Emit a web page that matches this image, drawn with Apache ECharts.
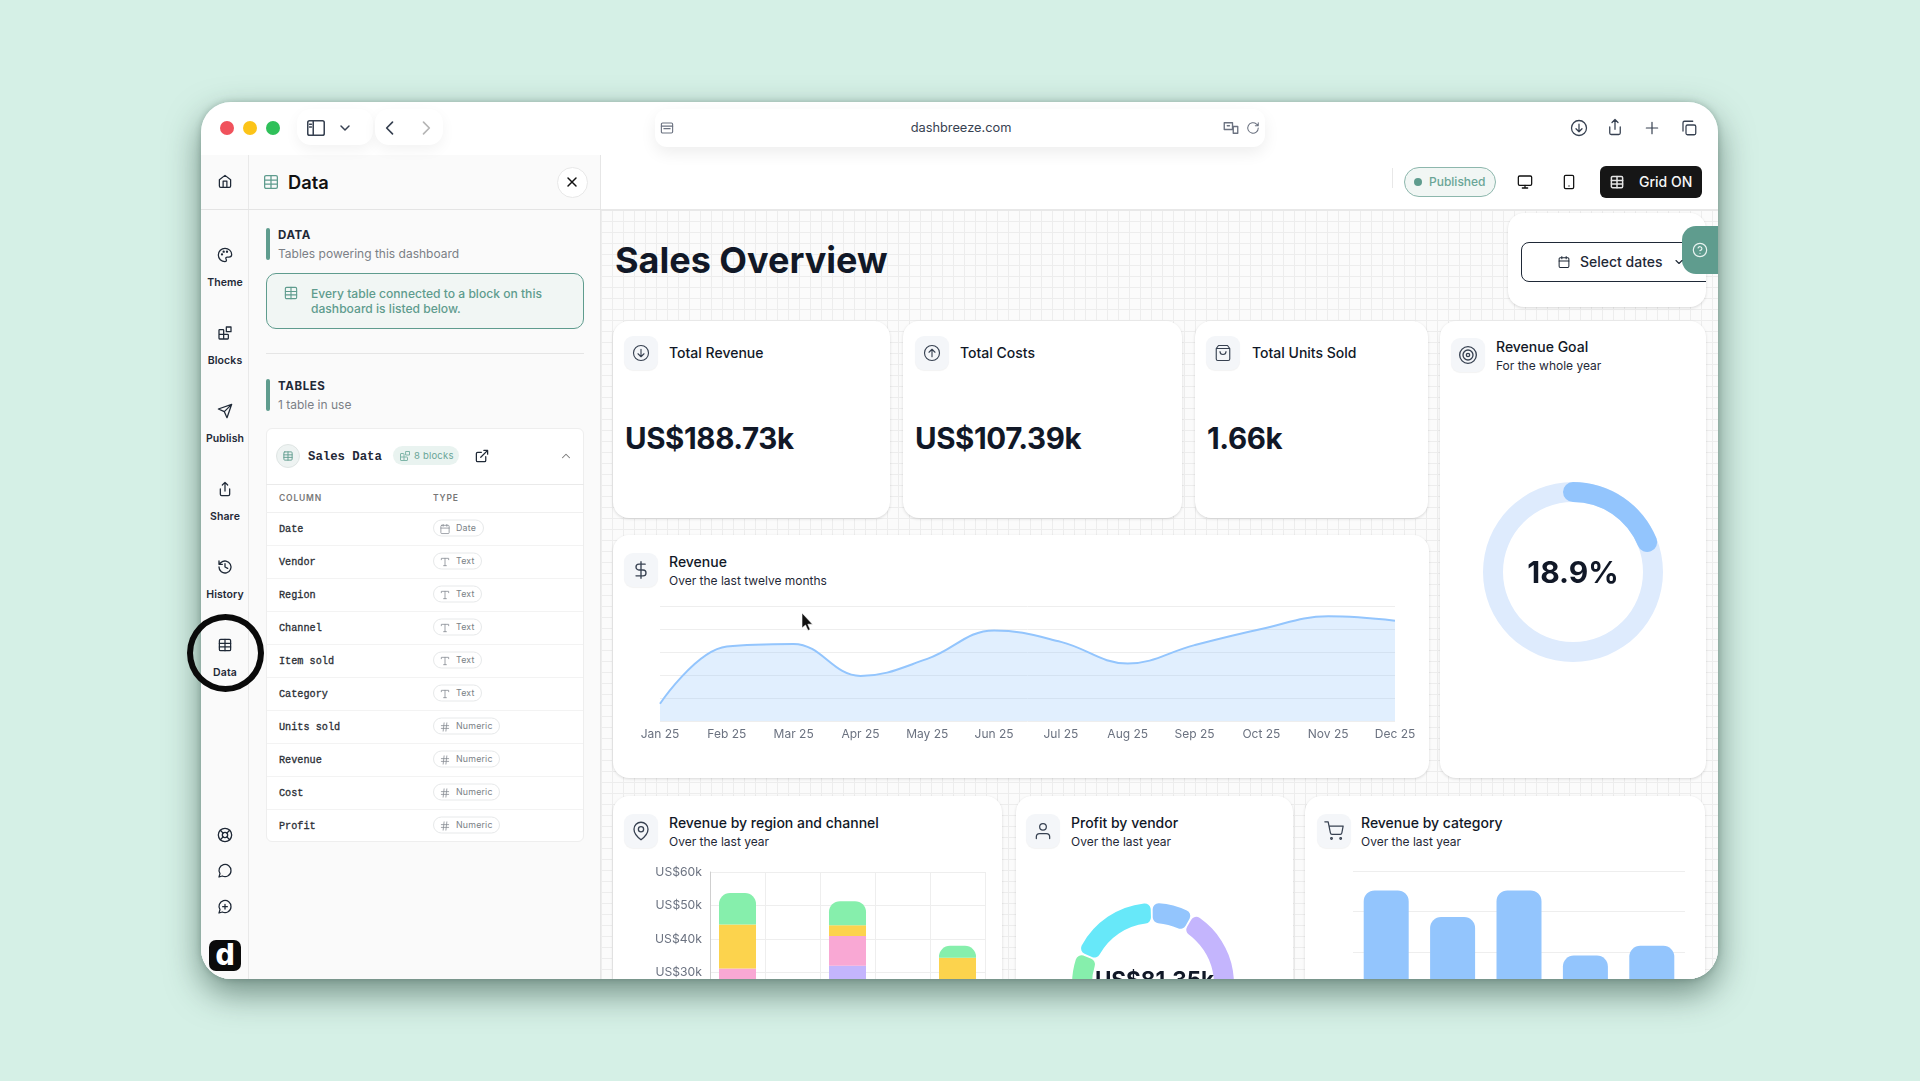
<!DOCTYPE html>
<html><head><meta charset="utf-8">
<script src="https://cdn.jsdelivr.net/npm/echarts@6/dist/echarts.min.js"></script>
<style>
*{box-sizing:border-box}
html,body{margin:0;padding:0;width:1920px;height:1081px;overflow:hidden;background:#d5f0e6;font-family:Inter,"Noto Sans",sans-serif;color:#111827}
#win{position:absolute;left:201px;top:102px;width:1517px;height:877px;border-radius:30px;overflow:hidden;background:#fff;}
#shadow{position:absolute;left:201px;top:102px;width:1517px;height:877px;border-radius:30px;box-shadow:0 14px 34px rgba(30,60,50,.55),0 0 6px rgba(30,60,50,.25)}
#page{position:absolute;left:-201px;top:-102px;width:1920px;height:1081px}
.t{position:absolute;line-height:1;white-space:nowrap;transform:translateY(-50%)}
.c{transform:translate(-50%,-50%)}
.b{position:absolute}
.card{position:absolute;background:#fff;border-radius:16px;box-shadow:0 1px 3px rgba(0,0,0,.14)}
.ib{position:absolute;width:34px;height:34px;border-radius:9px;background:#f4f6f9;box-shadow:0 1px 1px rgba(0,0,0,.05)}
.ttl{font-size:14px;font-weight:500;color:#111827}
.sub{font-size:12px;color:#1f2937}
.big{font-size:29.5px;font-weight:700;color:#111827;letter-spacing:-.4px}
.rail{font-size:10.5px;font-weight:600;color:#1f2937;letter-spacing:.1px}
.mono{font-family:"Liberation Mono",monospace}
.pill{position:absolute;height:17px;border:1px solid #e7e9ea;border-radius:9px;background:#fff;transform:translateY(-50%)}
.chart{position:absolute}
svg.ic{position:absolute;fill:none;stroke-linecap:round;stroke-linejoin:round;transform:translate(-50%,-50%)}
</style></head><body>
<div id="shadow"></div>
<div id="win"><div id="page">
  <div class="b" style="left:201px;top:155px;width:48px;height:824px;background:#fafafa;border-right:1px solid #e9e9e9"></div>
  <div class="b" style="left:249px;top:155px;width:352px;height:824px;background:#fafafa;border-right:1px solid #e6e6e6"></div>
  <div class="b" style="left:601px;top:210px;width:1117px;height:769px;background-color:#fbfbfb;background-image:linear-gradient(#ededed 1px,transparent 1px),linear-gradient(90deg,#ededed 1px,transparent 1px);background-size:11px 11px"></div>
  <div class="b" style="left:201px;top:209px;width:400px;height:1px;background:#e4e4e4"></div>
  <div class="b" style="left:601px;top:209px;width:1117px;height:2px;background:#e8e8e8"></div>
  <div class="b" style="left:655px;top:109px;width:610px;height:38px;border-radius:12px;background:#fff;box-shadow:0 6px 16px rgba(0,0,0,.07)"></div>
  <div class="b" style="left:297px;top:109px;width:76px;height:36px;border-radius:14px;background:#fff;box-shadow:0 5px 14px rgba(0,0,0,.05)"></div>
  <div class="b" style="left:375px;top:109px;width:68px;height:36px;border-radius:14px;background:#fff;box-shadow:0 5px 14px rgba(0,0,0,.05)"></div>
  <div class="b" style="left:220px;top:121px;width:14px;height:14px;border-radius:50%;background:#f0525c"></div>
  <div class="b" style="left:243px;top:121px;width:14px;height:14px;border-radius:50%;background:#fcc419"></div>
  <div class="b" style="left:266px;top:121px;width:14px;height:14px;border-radius:50%;background:#2fc05a"></div>
  <div class="t c" style="left:961px;top:128px;font-size:12.8px;color:#374151">dashbreeze.com</div>

  <div class="t" style="left:288px;top:182px;font-size:18.3px;font-weight:600;color:#111">Data</div>
  <div class="b" style="left:557px;top:167px;width:31px;height:31px;border-radius:50%;background:#fff;border:1px solid #e8e8e8"></div>

  <div class="b" style="left:266px;top:228px;width:4px;height:32px;border-radius:2px;background:#5f9c8e"></div>
  <div class="t" style="left:278px;top:236px;font-size:11.5px;font-weight:700;letter-spacing:.6px;color:#1f2937">DATA</div>
  <div class="t" style="left:278px;top:254px;font-size:12px;color:#7a7f86">Tables powering this dashboard</div>
  <div class="b" style="left:266px;top:273px;width:318px;height:56px;border-radius:10px;border:1px solid #5f9c8e;background:#f1f6f4"></div>
  <div class="t" style="left:311px;top:294px;font-size:12.1px;color:#5f9c8e;font-weight:500">Every table connected to a block on this</div>
  <div class="t" style="left:311px;top:309px;font-size:12.1px;color:#5f9c8e;font-weight:500">dashboard is listed below.</div>
  <div class="b" style="left:266px;top:353px;width:318px;height:1px;background:#e5e5e5"></div>
  <div class="b" style="left:266px;top:379px;width:4px;height:32px;border-radius:2px;background:#5f9c8e"></div>
  <div class="t" style="left:278px;top:387px;font-size:11.5px;font-weight:700;letter-spacing:.6px;color:#1f2937">TABLES</div>
  <div class="t" style="left:278px;top:405px;font-size:12px;color:#7a7f86">1 table in use</div>

  <div class="b" style="left:266px;top:428px;width:318px;height:414px;background:#fff;border:1px solid #eee;border-radius:6px"></div>
  <div class="b" style="left:276px;top:444px;width:24px;height:24px;border-radius:50%;background:#eef3f2;border:1px solid #dfe5e4"></div>
  <div class="t mono" style="left:308px;top:457px;font-size:12.3px;font-weight:700;color:#1f2937">Sales Data</div>
  <div class="b" style="left:393px;top:446px;width:66px;height:19px;border-radius:10px;background:#e9f3f0"></div>
  <div class="t" style="left:414px;top:455.5px;font-size:9.5px;color:#6aa597;letter-spacing:.2px">8 blocks</div>
  <div class="b" style="left:266px;top:484px;width:318px;height:1px;background:#eaeaea"></div>
  <div class="t" style="left:279px;top:498px;font-size:8.5px;font-weight:600;color:#777;letter-spacing:.8px">COLUMN</div>
  <div class="t" style="left:433px;top:498px;font-size:8.5px;font-weight:600;color:#777;letter-spacing:.8px">TYPE</div>
  <div class="b" style="left:266px;top:512px;width:318px;height:1px;background:#f0f0f0"></div>
  <div id="rows"></div>

  <div class="t" style="left:615px;top:260px;font-size:36px;font-weight:700;color:#111827">Sales Overview</div>
  <div class="card" style="left:1508px;top:213px;width:198px;height:94px;overflow:hidden">
    <div class="b" style="left:13px;top:29px;width:200px;height:40px;border:1px solid #1f2937;border-radius:8px;background:#fff"></div>
  </div>
  <div class="t" style="left:1580px;top:262px;font-size:14px;font-weight:500;color:#1f2937">Select dates</div>

  <div class="b" style="left:1392px;top:168px;width:1px;height:20px;background:#e8e8e8"></div>
  <div class="b" style="left:1404px;top:167px;width:92px;height:30px;border-radius:15px;border:1px solid #8db7ad;background:#f1f6f4"></div>
  <div class="b" style="left:1414px;top:178px;width:8px;height:8px;border-radius:50%;background:#5f9c8e"></div>
  <div class="t" style="left:1429px;top:182px;font-size:12px;font-weight:500;color:#6aa597">Published</div>
  <div class="b" style="left:1600px;top:166px;width:102px;height:32px;border-radius:6px;background:#161616"></div>
  <div class="t" style="left:1639px;top:182px;font-size:14px;font-weight:500;color:#f5f5f5">Grid ON</div>

  <div class="card" style="left:613px;top:321px;width:277px;height:197px"></div>
  <div class="card" style="left:903px;top:321px;width:279px;height:197px"></div>
  <div class="card" style="left:1195px;top:321px;width:233px;height:197px"></div>
  <div class="card" style="left:1440px;top:321px;width:266px;height:457px"></div>
  <div class="card" style="left:613px;top:535px;width:816px;height:243px"></div>
  <div class="card" style="left:613px;top:796px;width:389px;height:300px"></div>
  <div class="card" style="left:1016px;top:796px;width:277px;height:300px"></div>
  <div class="card" style="left:1305px;top:796px;width:400px;height:300px"></div>

  <div class="ib" style="left:624px;top:336px"></div>
  <div class="ib" style="left:915px;top:336px"></div>
  <div class="ib" style="left:1206px;top:336px"></div>
  <div class="ib" style="left:1451px;top:338px"></div>
  <div class="ib" style="left:624px;top:553px"></div>
  <div class="ib" style="left:624px;top:814px"></div>
  <div class="ib" style="left:1026px;top:814px"></div>
  <div class="ib" style="left:1317px;top:814px"></div>

  <div class="t ttl" style="left:669px;top:353px">Total Revenue</div>
  <div class="t ttl" style="left:960px;top:353px">Total Costs</div>
  <div class="t ttl" style="left:1252px;top:353px">Total Units Sold</div>
  <div class="t big" style="left:625px;top:439px">US$188.73k</div>
  <div class="t big" style="left:915px;top:439px">US$107.39k</div>
  <div class="t big" style="left:1207px;top:439px">1.66k</div>
  <div class="t ttl" style="left:1496px;top:347px">Revenue Goal</div>
  <div class="t sub" style="left:1496px;top:366px">For the whole year</div>
  <div class="t ttl" style="left:669px;top:562px">Revenue</div>
  <div class="t sub" style="left:669px;top:581px">Over the last twelve months</div>
  <div class="t ttl" style="left:669px;top:823px">Revenue by region and channel</div>
  <div class="t sub" style="left:669px;top:842px">Over the last year</div>
  <div class="t ttl" style="left:1071px;top:823px">Profit by vendor</div>
  <div class="t sub" style="left:1071px;top:842px">Over the last year</div>
  <div class="t ttl" style="left:1361px;top:823px">Revenue by category</div>
  <div class="t sub" style="left:1361px;top:842px">Over the last year</div>

  <div class="chart" id="chartRevenue" style="left:613px;top:590px;width:816px;height:170px"></div>
  <div class="chart" id="chartGoal" style="left:1453px;top:452px;width:240px;height:240px"></div>
  <div class="chart" id="chartRegion" style="left:613px;top:860px;width:389px;height:236px"></div>
  <div class="chart" id="chartVendor" style="left:1016px;top:860px;width:277px;height:236px"></div>
  <div class="chart" id="chartCategory" style="left:1305px;top:860px;width:400px;height:236px"></div>

  <div class="b" style="left:1682px;top:226px;width:40px;height:48px;border-radius:14px 0 0 14px;background:#5f9c8e"></div>
  <div id="railText"></div>
  <div class="b" style="left:209px;top:940px;width:32px;height:31px;border-radius:7px;background:#0b0b0b"></div>
  <div class="t c" style="left:225px;top:954px;font-size:30px;font-weight:800;color:#fff">d</div>
  <div id="icons"></div>
  <svg class="b" style="left:801px;top:613px" width="12" height="18" viewBox="0 0 12 18"><path d="M1 0v15l3.5-3 2.5 5.5 2.2-1-2.4-5.3h4.7z" fill="#111" stroke="#fff" stroke-width=".6"/></svg>
</div></div>
<div class="b" style="left:187px;top:614px;width:77px;height:78px;border-radius:50%;border:6.5px solid #0a0a0a"></div>
<script>
// Revenue line (US$)
var months = ['Jan 25','Feb 25','Mar 25','Apr 25','May 25','Jun 25','Jul 25','Aug 25','Sep 25','Oct 25','Nov 25','Dec 25'];
var revenueByMonth = [3750,16200,16750,9800,13500,19700,17200,12500,16500,20000,22750,21800];
// Revenue goal (%)
var goalPercent = 18.9;
var goalLabel = '18.9%';
// Stacked bars: region and channel
var regions = ['North','Central','South','West','East'];
var stackLavender = [13000,null,32000,null,8000];
var stackPink = [18200,null,8900,null,10000];
var stackYellow = [13100,null,3200,null,16400];
var stackGreen = [9400,null,7200,null,3600];
// Profit by vendor
var vendors = ['Vendor A','Vendor B','Vendor C','Vendor D','Vendor E'];
var vendorProfit = [7000,24900,16500,18000,14900];
var vendorTotal = 'US$81.35k';
// Revenue by category
var categories = ['Category A','Category B','Category C','Category D','Category E'];
var categoryRevenue = [45200,38600,45200,29100,31500];
// Table columns
var columnNames = ['Date','Vendor','Region','Channel','Item sold','Category','Units sold','Revenue','Cost','Profit'];
var columnTypes = ['Date','Text','Text','Text','Text','Text','Numeric','Numeric','Numeric','Numeric'];
var railLabels = ['Theme','Blocks','Publish','Share','History','Data'];

var blue='#93c5fd', green='#86efac', yellow='#fcd34d', pink='#f9a8d4', lav='#c4b5fd', cyan='#67e8f9';
var axisGray='#6b7280', gridC='#eeeeee', FONT='Inter';

// ---------- chrome text + icons ----------
var P={
 home:'<path d="M3 10l9-7 9 7v10a2 2 0 0 1-2 2H5a2 2 0 0 1-2-2z"/><path d="M9 22V12h6v10"/>',
 table:'<rect x="3" y="3" width="18" height="18" rx="2"/><path d="M3 9.5h18M3 15h18M12 3v18"/>',
 palette:'<path d="M12 2a10 10 0 1 0 0 20c1.5 0 2.2-1 2.2-2 0-1.4-1-1.8-1-3 0-1 .8-1.8 2-1.8h2.5c2.5 0 4.3-1.6 4.3-4C22 6 17.500 2 12 2z"/><circle cx="7.500" cy="11" r=".8"/><circle cx="10" cy="7" r=".8"/><circle cx="15" cy="7" r=".8"/>',
 blocks:'<rect x="14" y="3" width="7" height="7"/><path d="M10 21V8a1 1 0 0 0-1-1H4a1 1 0 0 0-1 1v12a1 1 0 0 0 1 1h12a1 1 0 0 0 1-1v-5a1 1 0 0 0-1-1H3"/>',
 send:'<path d="M22 2L11 13M22 2l-7 20-4-9-9-4z"/>',
 share:'<path d="M5 12v8a2 2 0 0 0 2 2h10a2 2 0 0 0 2-2v-8M16 6l-4-4-4 4M12 2v13"/>',
 history:'<path d="M3 12a9 9 0 1 0 3-6.700L3 8M3 3v5h5M12 7v5l4 2"/>',
 buoy:'<circle cx="12" cy="12" r="10"/><circle cx="12" cy="12" r="4"/><path d="M5 5l4.200 4.200M14.800 14.800L19 19M19 5l-4.200 4.200M9.200 14.800L5 19"/>',
 msg:'<path d="M21 11.500a9 9 0 0 1-13 8L3 21l1.500-5A9 9 0 1 1 21 11.500z"/>',
 msgplus:'<path d="M21 11.500a9 9 0 0 1-13 8L3 21l1.500-5A9 9 0 1 1 21 11.500z"/><path d="M12 8v7M8.500 11.500h7"/>',
 x:'<path d="M18 6L6 18M6 6l12 12"/>',
 sidebar:'<rect x="3" y="4" width="18" height="16" rx="2"/><path d="M9 4v16M5 8h2M5 11h2"/>',
 down:'<path d="M6 9l6 6 6-6"/>',left:'<path d="M15 19l-7-7 7-7"/>',right:'<path d="M9 19l7-7-7-7"/>',up:'<path d="M18 15l-6-6-6 6"/>',
 dl:'<circle cx="12" cy="12" r="10"/><path d="M12 7v10M8 13l4 4 4-4"/>',
 ul:'<circle cx="12" cy="12" r="10"/><path d="M12 17V7M8 11l4-4 4 4"/>',
 plus:'<path d="M12 4v16M4 12h16"/>',
 copy:'<rect x="8" y="8" width="13" height="13" rx="2"/><path d="M4 16V5a2 2 0 0 1 2-2h11"/>',
 monitor:'<rect x="2" y="3" width="20" height="14" rx="2"/><path d="M8 21h8M12 17v4"/>',
 phone:'<rect x="5" y="2" width="14" height="20" rx="2"/><path d="M12 18h.01"/>',
 cal:'<rect x="3" y="4" width="18" height="18" rx="2"/><path d="M16 2v4M8 2v4M3 10h18"/>',
 help:'<circle cx="12" cy="12" r="10"/><path d="M9.100 9a3 3 0 0 1 5.800 1c0 2-3 3-3 3M12 17h.01"/>',
 dollar:'<path d="M12 2v20M17 5H9.500a3.500 3.500 0 0 0 0 7h5a3.500 3.500 0 0 1 0 7H6"/>',
 target:'<circle cx="12" cy="12" r="10"/><circle cx="12" cy="12" r="6"/><circle cx="12" cy="12" r="2"/>',
 pin:'<path d="M20 10c0 6-8 12-8 12s-8-6-8-12a8 8 0 0 1 16 0z"/><circle cx="12" cy="10" r="3"/>',
 user:'<circle cx="12" cy="7" r="4"/><path d="M20 21v-2a4 4 0 0 0-4-4H8a4 4 0 0 0-4 4v2"/>',
 cart:'<circle cx="9" cy="21" r="1"/><circle cx="20" cy="21" r="1"/><path d="M1 1h4l2.700 13.400a2 2 0 0 0 2 1.600h9.700a2 2 0 0 0 2-1.600L23 6H6"/>',
 bag:'<path d="M6 2L3 6v14a2 2 0 0 0 2 2h14a2 2 0 0 0 2-2V6l-3-4zM3 6h18M16 10a4 4 0 0 1-8 0"/>',
 ext:'<path d="M18 13v6a2 2 0 0 1-2 2H5a2 2 0 0 1-2-2V8a2 2 0 0 1 2-2h6M15 3h6v6M10 14L21 3"/>',
 T:'<path d="M4 7V4h16v3M9 20h6M12 4v16"/>',
 hash:'<path d="M4 9h16M4 15h16M10 3L8 21M16 3l-2 18"/>',
 reload:'<path d="M21 12a9 9 0 1 1-3-6.700L21 8M21 3v5h-5"/>',
 lang:'<path d="M3 5h11v9H3zM7 9h3M15 10h6v9h-6z"/>',
 page:'<rect x="3" y="4" width="18" height="16" rx="2"/><path d="M3 9h18M7 13h10"/>'
};
var icons=[
 ['sidebar',316,128,22,'#374151',1.7],['down',345,128,16,'#374151',2.2],['left',390,128,20,'#374151',2],['right',426,128,20,'#b5b5b5',2],
 ['page',667,128,15,'#6b7280',1.8],['lang',1231,128,18,'#6b7280',1.8],['reload',1253,128,14,'#6b7280',1.8],
 ['dl',1579,128,18,'#374151',1.7],['share',1615,127,18,'#374151',1.7],['plus',1652,128,17,'#374151',1.7],['copy',1689,128,18,'#374151',1.7],
 ['home',225,181,15,'#1f2937',2],['table',271,182,17,'#5f9c8e',1.8],['x',572,182,16,'#111',2.2],
 ['palette',225,255,16,'#1f2937',1.9],['blocks',225,333,16,'#1f2937',1.9],['send',225,411,16,'#1f2937',1.9],
 ['share',225,489,16,'#1f2937',1.9],['history',225,567,16,'#1f2937',2],['table',225,645,15,'#1f2937',2],
 ['buoy',225,835,16,'#1f2937',2],['msg',225,871,16,'#1f2937',1.9],['msgplus',225,907,16,'#1f2937',1.9],
 ['table',291,293,15,'#5f9c8e',1.8],['table',288,456,11,'#5f9c8e',2],['blocks',405,456,12,'#7fb5a8',2],['ext',482,456,15,'#1f2937',2],['up',566,456,14,'#777',1.8],
 ['monitor',1525,182,16,'#111',1.9],['phone',1569,182,16,'#111',1.9],['table',1617,182,15,'#e5e5e5',2.4],
 ['cal',1564,262,13,'#1f2937',1.9],['down',1679,262,12,'#1f2937',2.2],['help',1700,250,16,'#e6f2ef',1.8],
 ['dl',641,353,18,'#374151',1.5],['ul',932,353,18,'#374151',1.5],['bag',1223,353,18,'#374151',1.5],
 ['target',1468,355,20,'#374151',1.6],['dollar',641,570,20,'#374151',1.6],['pin',641,831,21,'#374151',1.5],['user',1043,831,20,'#374151',1.5],['cart',1334,831,20,'#374151',1.5]
];
var rowTypeIcon={Date:'cal',Text:'T',Numeric:'hash'};
var rowHtml='';
columnNames.forEach(function(n,i){
  var y=529+i*33, ty=columnTypes[i];
  var w=ty==='Numeric'?67:(ty==='Date'?51:49);
  rowHtml+='<div class="t mono" style="left:279px;top:'+(y+0.5)+'px;font-size:10.2px;color:#2b2f36;-webkit-text-stroke:.3px #2b2f36">'+n+'</div>';
  rowHtml+='<div class="pill" style="left:433px;top:'+(y-1)+'px;width:'+w+'px"></div>';
  rowHtml+='<div class="t" style="left:456px;top:'+(y-1.5)+'px;font-size:8.8px;color:#7a7f86;letter-spacing:.2px">'+ty+'</div>';
  if(i<columnNames.length-1) rowHtml+='<div class="b" style="left:267px;top:'+(y+16)+'px;width:316px;height:1px;background:#f3f3f3"></div>';
  icons.push([rowTypeIcon[ty],445,y,11,'#8a8f96',1.8]);
});
document.getElementById('rows').innerHTML=rowHtml;
var railY=[283,361,439,517,595,673], railH='';
railLabels.forEach(function(l,i){railH+='<div class="t c rail" style="left:225px;top:'+railY[i]+'px">'+l+'</div>'});
document.getElementById('railText').innerHTML=railH;
document.getElementById('icons').innerHTML=icons.map(function(a){
  return '<svg class="ic" style="left:'+a[1]+'px;top:'+a[2]+'px;stroke:'+a[4]+';stroke-width:'+a[5]+'" width="'+a[3]+'" height="'+a[3]+'" viewBox="0 0 24 24">'+P[a[0]]+'</svg>';
}).join('');

// ---------- charts ----------
var chartRevenue=echarts.init(document.getElementById('chartRevenue'));
chartRevenue.setOption({animation:false,
  grid:{left:47,right:34,top:16,bottom:39},
  xAxis:{type:'category',data:months,boundaryGap:false,axisLine:{show:false},axisTick:{show:false},
    axisLabel:{color:axisGray,fontFamily:FONT,fontSize:12,margin:7,interval:0,hideOverlap:false},splitLine:{show:false}},
  yAxis:{type:'value',min:0,max:25000,interval:5000,axisLabel:{show:false},axisLine:{show:false},axisTick:{show:false},
    splitLine:{show:true,lineStyle:{color:gridC,width:1}}},
  series:[{type:'line',data:revenueByMonth,smooth:0.4,symbol:'none',
    lineStyle:{color:blue,width:2},areaStyle:{color:'rgba(147,197,253,.28)',opacity:1}}]
});

var chartGoal=echarts.init(document.getElementById('chartGoal'));
chartGoal.setOption({animation:false,
  series:[{type:'gauge',center:['50%','50%'],radius:90,startAngle:90,endAngle:-270,min:0,max:100,
    pointer:{show:false},axisTick:{show:false},splitLine:{show:false},axisLabel:{show:false},
    axisLine:{roundCap:false,lineStyle:{width:20,color:[[1,'#deebfd']]}},
    progress:{show:true,roundCap:true,width:20,itemStyle:{color:blue}},
    title:{show:false},
    detail:{show:true,valueAnimation:false,formatter:function(){return goalLabel},offsetCenter:[0,2],fontFamily:FONT,fontSize:30,fontWeight:700,color:'#111827'},
    data:[{value:goalPercent}]}]
});

var chartRegion=echarts.init(document.getElementById('chartRegion'));
function stack(name,arr,color,top){
  return {name:name,type:'bar',stack:'r',data:arr,barWidth:37,itemStyle:{color:color,borderRadius:top?[11,11,0,0]:0}};
}
chartRegion.setOption({animation:false,
  grid:{left:97,right:17,top:12,bottom:23},
  xAxis:{type:'category',data:regions,axisLine:{show:true,lineStyle:{color:'#cfcfcf'}},axisTick:{show:false},
    axisLabel:{color:axisGray,fontFamily:FONT,fontSize:12},splitLine:{show:true,lineStyle:{color:gridC}}},
  yAxis:{type:'value',min:0,max:60000,interval:10000,
    axisLine:{show:true,lineStyle:{color:'#cfcfcf'}},axisTick:{show:false},
    axisLabel:{color:axisGray,fontFamily:FONT,fontSize:12.2,margin:8,formatter:function(v){return 'US$'+v/1000+'k'}},
    splitLine:{show:true,lineStyle:{color:gridC}}},
  series:[stack('Lavender',stackLavender,lav),stack('Pink',stackPink,pink),stack('Yellow',stackYellow,yellow),stack('Green',stackGreen,green,true)]
});

var chartVendor=echarts.init(document.getElementById('chartVendor'));
chartVendor.setOption({animation:false,
  title:{text:vendorTotal,left:'center',top:105,textStyle:{fontFamily:FONT,fontSize:22.5,fontWeight:700,color:'#111827'}},
  series:[{type:'pie',center:[137,124],radius:[61,81],startAngle:91,clockwise:true,padAngle:1.5,
    itemStyle:{borderRadius:6},label:{show:false},labelLine:{show:false},silent:true,
    color:[blue,lav,pink,green,cyan],
    data:vendors.map(function(v,i){return {name:v,value:vendorProfit[i]}})}]
});

var chartCategory=echarts.init(document.getElementById('chartCategory'));
chartCategory.setOption({animation:false,
  grid:{left:48,right:20,top:11,bottom:23},
  xAxis:{type:'category',data:categories,axisLine:{show:false},axisTick:{show:false},axisLabel:{show:true,color:axisGray,fontFamily:FONT,fontSize:12},splitLine:{show:false}},
  yAxis:{type:'value',min:0,max:50000,interval:10000,axisLabel:{show:false},axisLine:{show:false},axisTick:{show:false},splitLine:{show:true,lineStyle:{color:gridC}}},
  series:[{type:'bar',data:categoryRevenue,barWidth:45,itemStyle:{color:blue,borderRadius:[11,11,0,0]}}]
});
</script>
</body></html>
